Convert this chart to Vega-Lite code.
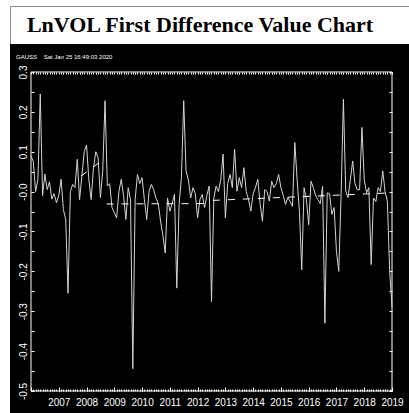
{
  "$schema": "https://vega.github.io/schema/vega-lite/v6.json",
  "background": "white",
  "padding": {"left": 9, "top": 5, "right": 0, "bottom": 0},
  "autosize": {"type": "pad"},
  "bounds": "flush",
  "spacing": 0,
  "config": {"view": {"stroke": null}, "axis": {"grid": false, "domain": false, "title": null}},
  "datasets": {
    "series": [
      {"t": 2006, "v": 0.09}, {"t": 2006.0833, "v": 0.075}, {"t": 2006.1667, "v": 0.0}, {"t": 2006.25, "v": 0.03},
      {"t": 2006.3333, "v": 0.245}, {"t": 2006.4167, "v": -0.01}, {"t": 2006.5, "v": 0.044}, {"t": 2006.5833, "v": 0.005},
      {"t": 2006.6667, "v": 0.025}, {"t": 2006.75, "v": -0.019}, {"t": 2006.8333, "v": -0.005}, {"t": 2006.9167, "v": -0.028},
      {"t": 2007, "v": -0.01}, {"t": 2007.0833, "v": 0.031}, {"t": 2007.1667, "v": -0.045}, {"t": 2007.25, "v": -0.07},
      {"t": 2007.3333, "v": -0.255}, {"t": 2007.4167, "v": 0.0}, {"t": 2007.5, "v": 0.018}, {"t": 2007.5833, "v": 0.01},
      {"t": 2007.6667, "v": 0.081}, {"t": 2007.75, "v": -0.02}, {"t": 2007.8333, "v": 0.04}, {"t": 2007.9167, "v": 0.1},
      {"t": 2008, "v": 0.117}, {"t": 2008.0833, "v": 0.03}, {"t": 2008.1667, "v": -0.02}, {"t": 2008.25, "v": 0.06},
      {"t": 2008.3333, "v": 0.1}, {"t": 2008.4167, "v": 0.085}, {"t": 2008.5, "v": -0.015}, {"t": 2008.5833, "v": 0.052},
      {"t": 2008.6667, "v": 0.228}, {"t": 2008.75, "v": 0.014}, {"t": 2008.8333, "v": 0.02}, {"t": 2008.9167, "v": -0.04},
      {"t": 2009, "v": -0.053}, {"t": 2009.0833, "v": -0.066}, {"t": 2009.1667, "v": 0.0}, {"t": 2009.25, "v": 0.031},
      {"t": 2009.3333, "v": -0.01}, {"t": 2009.4167, "v": -0.07}, {"t": 2009.5, "v": 0.01}, {"t": 2009.5833, "v": -0.02},
      {"t": 2009.6667, "v": -0.444}, {"t": 2009.75, "v": -0.02}, {"t": 2009.8333, "v": 0.043}, {"t": 2009.9167, "v": 0.02},
      {"t": 2010, "v": 0.035}, {"t": 2010.0833, "v": -0.02}, {"t": 2010.1667, "v": -0.07}, {"t": 2010.25, "v": 0.0},
      {"t": 2010.3333, "v": 0.018}, {"t": 2010.4167, "v": 0.005}, {"t": 2010.5, "v": -0.016}, {"t": 2010.5833, "v": -0.03},
      {"t": 2010.6667, "v": -0.074}, {"t": 2010.75, "v": -0.11}, {"t": 2010.8333, "v": -0.154}, {"t": 2010.9167, "v": -0.016},
      {"t": 2011, "v": -0.049}, {"t": 2011.0833, "v": -0.03}, {"t": 2011.1667, "v": -0.007}, {"t": 2011.25, "v": -0.242},
      {"t": 2011.3333, "v": -0.032}, {"t": 2011.4167, "v": 0.035}, {"t": 2011.5, "v": 0.228}, {"t": 2011.5833, "v": 0.052},
      {"t": 2011.6667, "v": 0.03}, {"t": 2011.75, "v": -0.016}, {"t": 2011.8333, "v": 0.01}, {"t": 2011.9167, "v": -0.005},
      {"t": 2012, "v": -0.066}, {"t": 2012.0833, "v": -0.02}, {"t": 2012.1667, "v": -0.007}, {"t": 2012.25, "v": -0.04},
      {"t": 2012.3333, "v": -0.01}, {"t": 2012.4167, "v": 0.014}, {"t": 2012.5, "v": -0.276}, {"t": 2012.5833, "v": -0.016},
      {"t": 2012.6667, "v": 0.014}, {"t": 2012.75, "v": 0.0}, {"t": 2012.8333, "v": 0.03}, {"t": 2012.9167, "v": 0.094},
      {"t": 2013, "v": -0.066}, {"t": 2013.0833, "v": 0.02}, {"t": 2013.1667, "v": 0.043}, {"t": 2013.25, "v": 0.01},
      {"t": 2013.3333, "v": 0.106}, {"t": 2013.4167, "v": 0.001}, {"t": 2013.5, "v": 0.035}, {"t": 2013.5833, "v": 0.01},
      {"t": 2013.6667, "v": 0.06}, {"t": 2013.75, "v": 0.0}, {"t": 2013.8333, "v": -0.02}, {"t": 2013.9167, "v": -0.049},
      {"t": 2014, "v": -0.005}, {"t": 2014.0833, "v": 0.01}, {"t": 2014.1667, "v": 0.031}, {"t": 2014.25, "v": -0.03},
      {"t": 2014.3333, "v": -0.074}, {"t": 2014.4167, "v": 0.005}, {"t": 2014.5, "v": 0.0}, {"t": 2014.5833, "v": -0.024},
      {"t": 2014.6667, "v": 0.026}, {"t": 2014.75, "v": 0.01}, {"t": 2014.8333, "v": 0.02}, {"t": 2014.9167, "v": 0.043},
      {"t": 2015, "v": 0.01}, {"t": 2015.0833, "v": -0.01}, {"t": 2015.1667, "v": -0.032}, {"t": 2015.25, "v": -0.015},
      {"t": 2015.3333, "v": -0.025}, {"t": 2015.4167, "v": -0.037}, {"t": 2015.5, "v": 0.123}, {"t": 2015.5833, "v": 0.03},
      {"t": 2015.6667, "v": -0.05}, {"t": 2015.75, "v": -0.196}, {"t": 2015.8333, "v": 0.01}, {"t": 2015.9167, "v": -0.02},
      {"t": 2016, "v": -0.083}, {"t": 2016.0833, "v": 0.026}, {"t": 2016.1667, "v": 0.01}, {"t": 2016.25, "v": -0.01},
      {"t": 2016.3333, "v": -0.02}, {"t": 2016.4167, "v": -0.03}, {"t": 2016.5, "v": 0.014}, {"t": 2016.5833, "v": -0.33},
      {"t": 2016.6667, "v": -0.003}, {"t": 2016.75, "v": -0.005}, {"t": 2016.8333, "v": -0.057}, {"t": 2016.9167, "v": -0.04},
      {"t": 2017, "v": -0.15}, {"t": 2017.0833, "v": -0.2}, {"t": 2017.1667, "v": -0.007}, {"t": 2017.25, "v": 0.232},
      {"t": 2017.3333, "v": 0.001}, {"t": 2017.4167, "v": -0.015}, {"t": 2017.5, "v": 0.03}, {"t": 2017.5833, "v": 0.077},
      {"t": 2017.6667, "v": 0.02}, {"t": 2017.75, "v": 0.005}, {"t": 2017.8333, "v": 0.005}, {"t": 2017.9167, "v": 0.161},
      {"t": 2018, "v": 0.03}, {"t": 2018.0833, "v": -0.003}, {"t": 2018.1667, "v": 0.01}, {"t": 2018.25, "v": -0.183},
      {"t": 2018.3333, "v": -0.016}, {"t": 2018.4167, "v": -0.025}, {"t": 2018.5, "v": 0.01}, {"t": 2018.5833, "v": 0.0},
      {"t": 2018.6667, "v": 0.052}, {"t": 2018.75, "v": 0.0}, {"t": 2018.8333, "v": -0.024}, {"t": 2018.9167, "v": -0.2},
      {"t": 2019, "v": -0.29}
    ],
    "trend": [
      {"seg": "a", "t": 2007.8, "v": 0.039}, {"seg": "a", "t": 2008.64, "v": 0.082},
      {"seg": "b", "t": 2008.72, "v": -0.031}, {"seg": "b", "t": 2012.42, "v": -0.030},
      {"seg": "c", "t": 2012.55, "v": -0.022}, {"seg": "c", "t": 2019.0, "v": -0.003}
    ]
  },
  "vconcat": [
    {
      "width": 400,
      "height": 38,
      "view": {"fill": "white", "stroke": "#8c8c8c", "strokeWidth": 1},
      "data": {"values": [{"label": "LnVOL First Difference Value Chart"}]},
      "mark": {"type": "text", "font": "Liberation Serif", "fontWeight": "bold", "fontSize": 22, "color": "black", "align": "center", "baseline": "middle", "dx": -10},
      "encoding": {"text": {"field": "label"}}
    },
    {
      "width": 400,
      "height": 370,
      "view": {"fill": "black", "stroke": null},
      "title": {"text": "GAUSS\u00a0\u00a0\u00a0\u00a0Sat Jan 25 16:49:03 2020", "anchor": "start", "frame": "group", "font": "Liberation Sans", "fontSize": 6, "fontWeight": "normal", "color": "white", "offset": 0, "baseline": "bottom", "dx": 6, "dy": 22},
      "resolve": {"axis": {"x": "independent", "y": "independent"}},
      "layer": [
        {
          "data": {"values": [{}]},
          "mark": {"type": "rect", "filled": false, "stroke": "white", "strokeWidth": 1},
          "encoding": {
            "x": {"datum": 2006, "type": "quantitative", "axis": {"orient": "bottom", "offset": -23, "values": [2006,2007,2008,2009,2010,2011,2012,2013,2014,2015,2016,2017,2018,2019], "tickSize": -4, "tickColor": "white", "labels": false}},
            "x2": {"datum": 2019},
            "y": {"datum": 0.3, "type": "quantitative", "axis": null},
            "y2": {"datum": -0.5}
          }
        },
        {
          "data": {"name": "series"},
          "mark": {"type": "line", "color": "#d4d4d4", "strokeWidth": 1},
          "encoding": {
            "x": {
              "field": "t", "type": "quantitative",
              "scale": {"domain": [2005.244, 2019.648], "nice": false, "zero": false},
              "axis": {
                "orient": "bottom", "offset": -23,
                "values": [2006,2006.0833,2006.1667,2006.25,2006.3333,2006.4167,2006.5,2006.5833,2006.6667,2006.75,2006.8333,2006.9167,2007,2007.0833,2007.1667,2007.25,2007.3333,2007.4167,2007.5,2007.5833,2007.6667,2007.75,2007.8333,2007.9167,2008,2008.0833,2008.1667,2008.25,2008.3333,2008.4167,2008.5,2008.5833,2008.6667,2008.75,2008.8333,2008.9167,2009,2009.0833,2009.1667,2009.25,2009.3333,2009.4167,2009.5,2009.5833,2009.6667,2009.75,2009.8333,2009.9167,2010,2010.0833,2010.1667,2010.25,2010.3333,2010.4167,2010.5,2010.5833,2010.6667,2010.75,2010.8333,2010.9167,2011,2011.0833,2011.1667,2011.25,2011.3333,2011.4167,2011.5,2011.5833,2011.6667,2011.75,2011.8333,2011.9167,2012,2012.0833,2012.1667,2012.25,2012.3333,2012.4167,2012.5,2012.5833,2012.6667,2012.75,2012.8333,2012.9167,2013,2013.0833,2013.1667,2013.25,2013.3333,2013.4167,2013.5,2013.5833,2013.6667,2013.75,2013.8333,2013.9167,2014,2014.0833,2014.1667,2014.25,2014.3333,2014.4167,2014.5,2014.5833,2014.6667,2014.75,2014.8333,2014.9167,2015,2015.0833,2015.1667,2015.25,2015.3333,2015.4167,2015.5,2015.5833,2015.6667,2015.75,2015.8333,2015.9167,2016,2016.0833,2016.1667,2016.25,2016.3333,2016.4167,2016.5,2016.5833,2016.6667,2016.75,2016.8333,2016.9167,2017,2017.0833,2017.1667,2017.25,2017.3333,2017.4167,2017.5,2017.5833,2017.6667,2017.75,2017.8333,2017.9167,2018,2018.0833,2018.1667,2018.25,2018.3333,2018.4167,2018.5,2018.5833,2018.6667,2018.75,2018.8333,2018.9167,2019],
                "tickSize": -2, "tickColor": "white",
                "labelExpr": "datum.value % 1 == 0 && datum.value > 2006 ? '' + datum.value : ''",
                "labelColor": "white", "labelFont": "Liberation Sans", "labelFontSize": 10,
                "labelPadding": 8, "labelAngle": 0, "labelOverlap": false, "labelFlush": false, "labelBound": false
              }
            },
            "y": {
              "field": "v", "type": "quantitative",
              "scale": {"domain": [-0.5577, 0.3702], "nice": false, "zero": false},
              "axis": {
                "orient": "left", "offset": -21,
                "values": [-0.5,-0.45,-0.4,-0.35,-0.3,-0.25,-0.2,-0.15,-0.1,-0.05,0,0.05,0.1,0.15,0.2,0.25,0.3],
                "tickSize": -3, "tickColor": "white",
                "labelExpr": "abs(datum.value * 10 - round(datum.value * 10)) > 0.01 ? '' : (datum.value == 0 ? '-0.0' : replace(format(datum.value, '.1f'), '\u2212', '-'))",
                "labelAngle": -90, "labelColor": "white", "labelFont": "Liberation Sans", "labelFontSize": 10,
                "labelPadding": 6, "labelOverlap": false, "labelFlush": false, "labelBound": false
              }
            }
          }
        },
        {
          "data": {"name": "trend"},
          "mark": {"type": "line", "color": "white", "strokeWidth": 1, "strokeDash": [7, 8]},
          "encoding": {
            "x": {
              "field": "t", "type": "quantitative",
              "axis": {
                "orient": "top", "offset": -28,
                "values": [2006,2006.0833,2006.1667,2006.25,2006.3333,2006.4167,2006.5,2006.5833,2006.6667,2006.75,2006.8333,2006.9167,2007,2007.0833,2007.1667,2007.25,2007.3333,2007.4167,2007.5,2007.5833,2007.6667,2007.75,2007.8333,2007.9167,2008,2008.0833,2008.1667,2008.25,2008.3333,2008.4167,2008.5,2008.5833,2008.6667,2008.75,2008.8333,2008.9167,2009,2009.0833,2009.1667,2009.25,2009.3333,2009.4167,2009.5,2009.5833,2009.6667,2009.75,2009.8333,2009.9167,2010,2010.0833,2010.1667,2010.25,2010.3333,2010.4167,2010.5,2010.5833,2010.6667,2010.75,2010.8333,2010.9167,2011,2011.0833,2011.1667,2011.25,2011.3333,2011.4167,2011.5,2011.5833,2011.6667,2011.75,2011.8333,2011.9167,2012,2012.0833,2012.1667,2012.25,2012.3333,2012.4167,2012.5,2012.5833,2012.6667,2012.75,2012.8333,2012.9167,2013,2013.0833,2013.1667,2013.25,2013.3333,2013.4167,2013.5,2013.5833,2013.6667,2013.75,2013.8333,2013.9167,2014,2014.0833,2014.1667,2014.25,2014.3333,2014.4167,2014.5,2014.5833,2014.6667,2014.75,2014.8333,2014.9167,2015,2015.0833,2015.1667,2015.25,2015.3333,2015.4167,2015.5,2015.5833,2015.6667,2015.75,2015.8333,2015.9167,2016,2016.0833,2016.1667,2016.25,2016.3333,2016.4167,2016.5,2016.5833,2016.6667,2016.75,2016.8333,2016.9167,2017,2017.0833,2017.1667,2017.25,2017.3333,2017.4167,2017.5,2017.5833,2017.6667,2017.75,2017.8333,2017.9167,2018,2018.0833,2018.1667,2018.25,2018.3333,2018.4167,2018.5,2018.5833,2018.6667,2018.75,2018.8333,2018.9167,2019],
                "tickSize": -2, "tickColor": "white", "labels": false
              }
            },
            "y": {
              "field": "v", "type": "quantitative",
              "axis": {
                "orient": "right", "offset": -18,
                "values": [-0.5,-0.45,-0.4,-0.35,-0.3,-0.25,-0.2,-0.15,-0.1,-0.05,0,0.05,0.1,0.15,0.2,0.25,0.3],
                "tickSize": -3, "tickColor": "white", "labels": false
              }
            },
            "detail": {"field": "seg"}
          }
        }
      ]
    }
  ]
}
